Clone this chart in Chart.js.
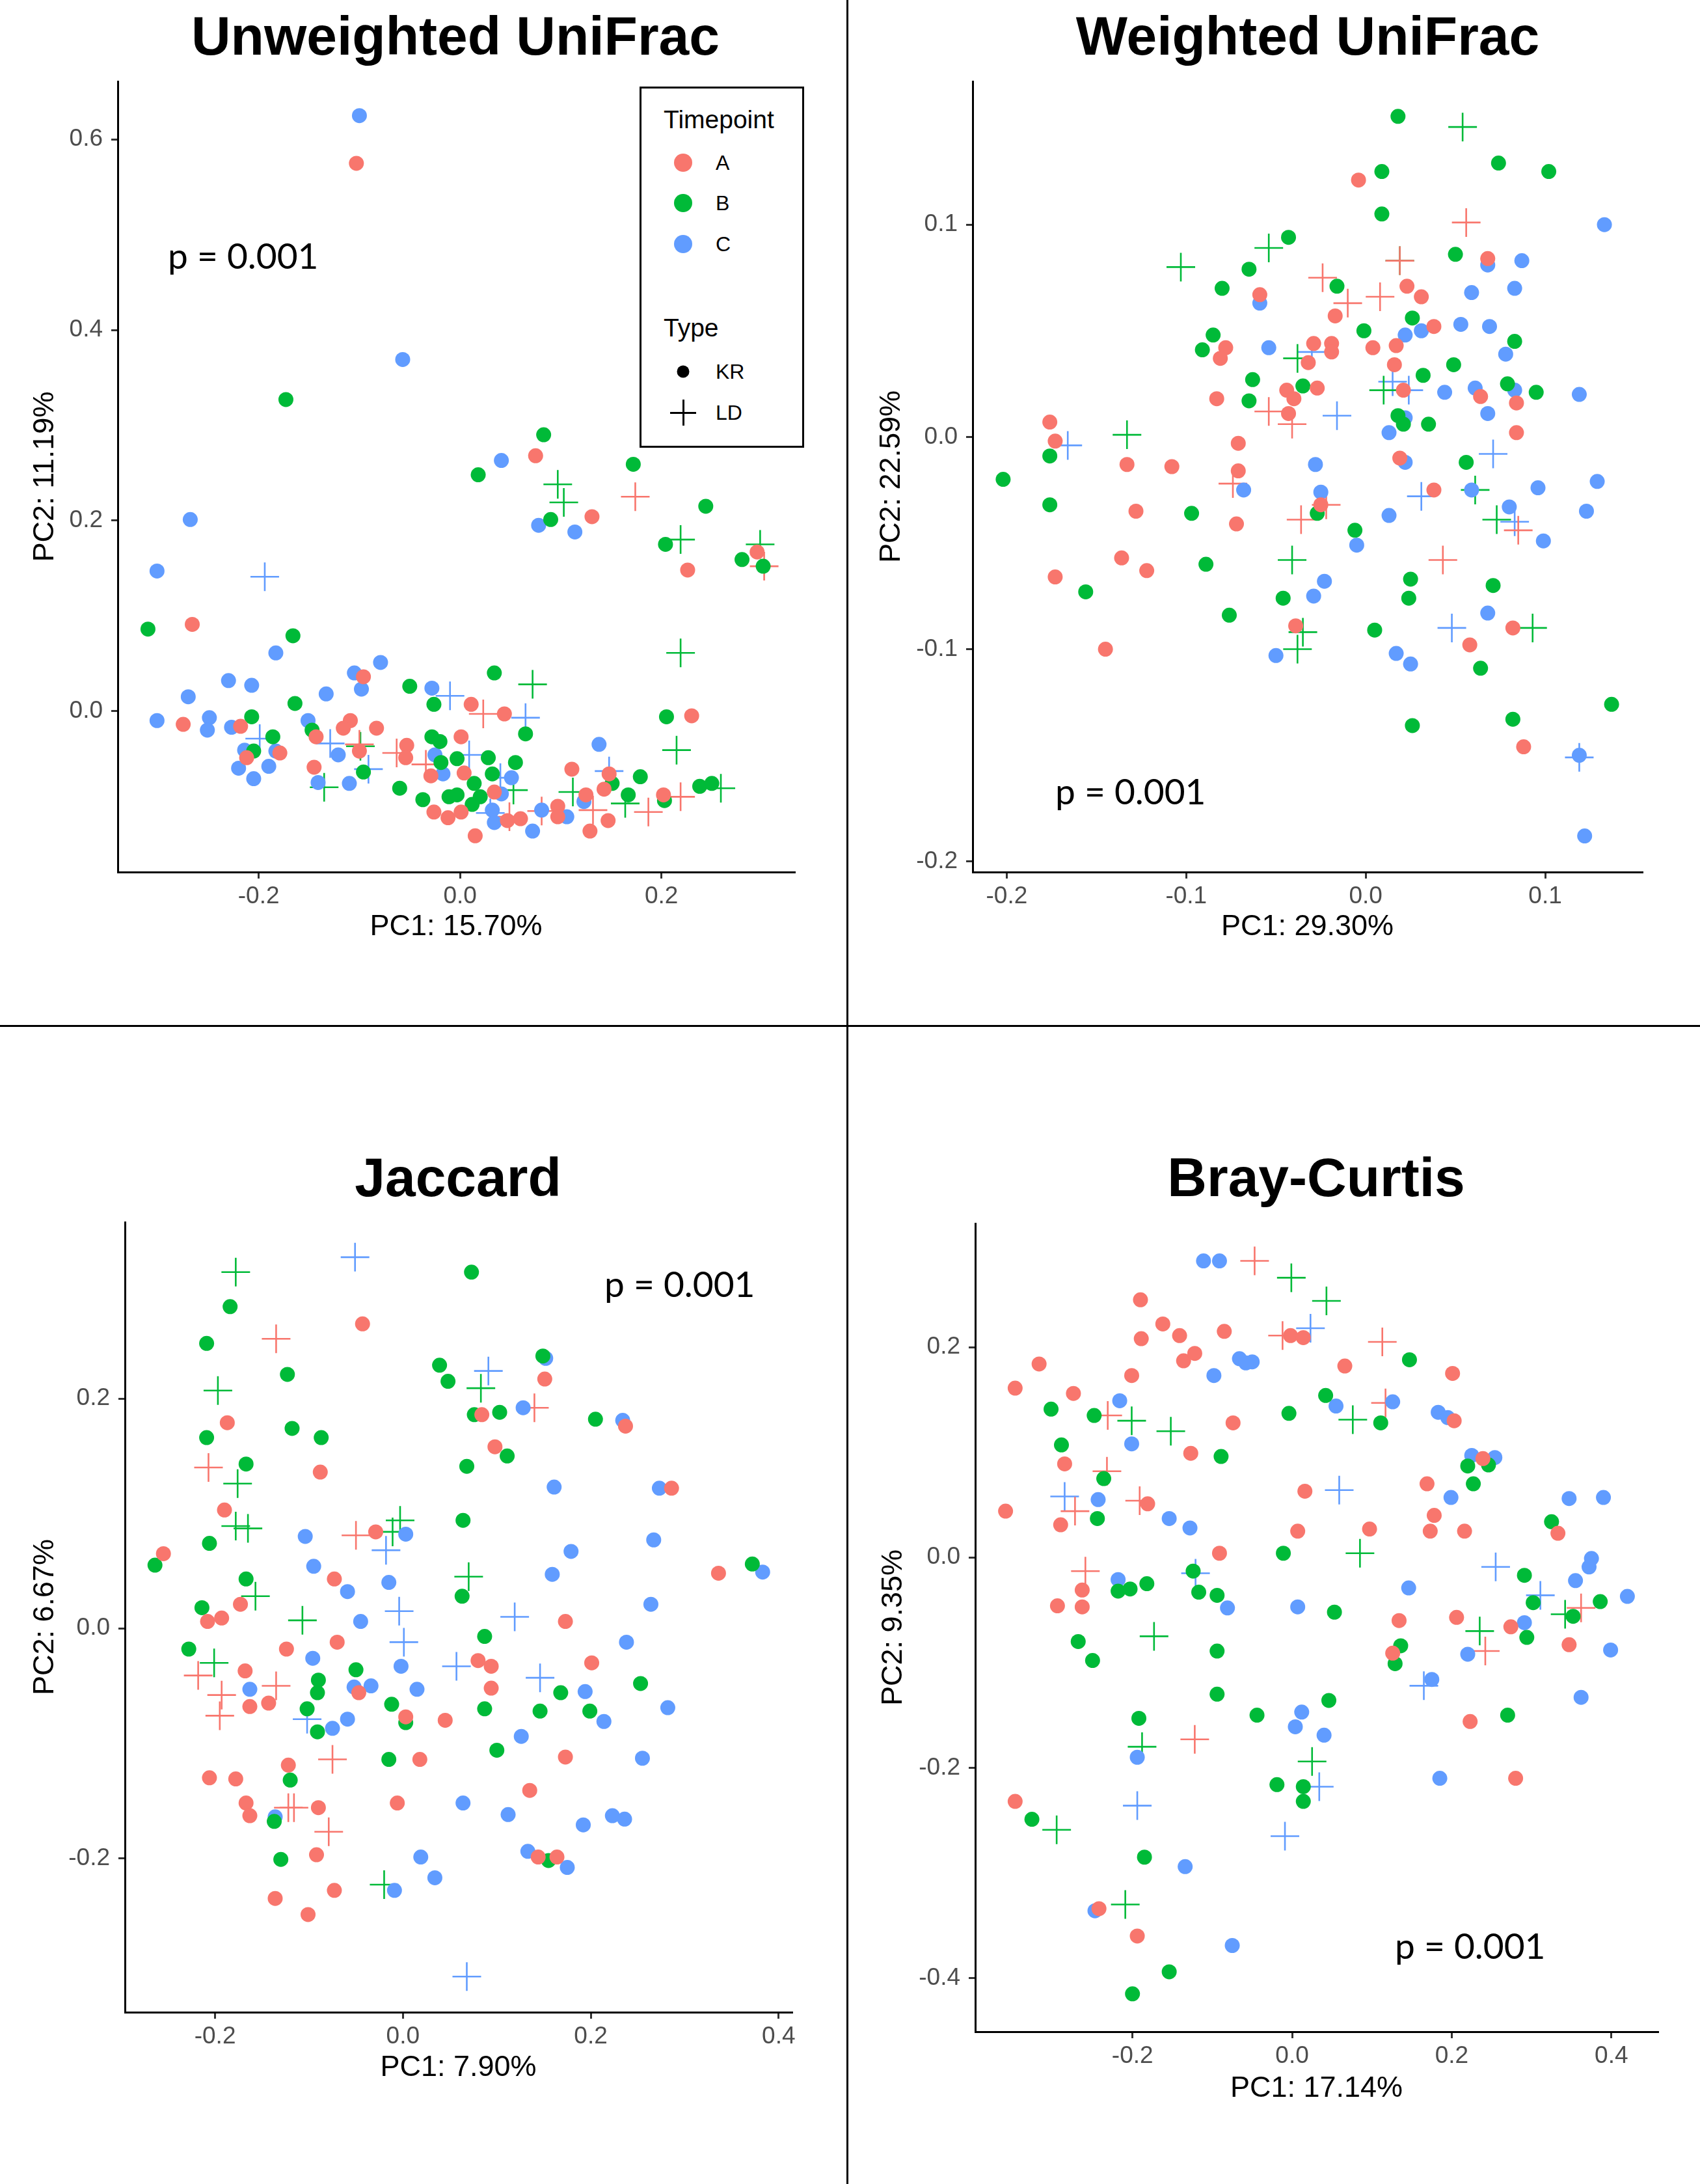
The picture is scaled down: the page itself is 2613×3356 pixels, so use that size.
<!DOCTYPE html>
<html>
<head>
<meta charset="utf-8">
<title>PCoA ordinations</title>
<script src="https://cdn.jsdelivr.net/npm/chart.js@4.4.1/dist/chart.umd.min.js"></script>
<style>
  html, body { margin: 0; padding: 0; background: #fff; }
  body { position: relative; width: 2613px; height: 3356px; overflow: hidden;
         font-family: "Liberation Sans", Arial, sans-serif; }
  canvas { position: absolute; }
  .rule { position: absolute; background: #000; }
  .ptitle { position: absolute; font-weight: bold; font-size: 84px; line-height: 1;
            white-space: nowrap; transform: translate(-50%, -50%); color: #000; }
  .pval { position: absolute; font-family: Lato, "Noto Sans", sans-serif; font-size: 55px;
          line-height: 1; white-space: nowrap; transform: translateY(-50%); color: #000; }
  .legend { position: absolute; left: 983px; top: 133px; width: 253px; height: 555px;
            border: 3px solid #000; box-sizing: border-box; background: #fff; }
  .lg-txt { position: absolute; line-height: 1; white-space: nowrap; transform: translateY(-50%); color: #000; }
  .lg-head { font-size: 39px; }
  .lg-item { font-size: 32px; }
  .lg-dot { position: absolute; border-radius: 50%; transform: translate(-50%, -50%); }
  .lg-plus { position: absolute; width: 40px; height: 40px; transform: translate(-50%, -50%); }
  .lg-plus::before, .lg-plus::after { content: ""; position: absolute; background: #000; }
  .lg-plus::before { left: 0; top: 18.5px; width: 40px; height: 3px; }
  .lg-plus::after { left: 18.5px; top: 0; width: 3px; height: 40px; }
</style>
</head>
<body>

<!-- panel dividers -->
<div class="rule" style="left:1301px;top:0;width:3px;height:3356px"></div>
<div class="rule" style="left:0;top:1575px;width:2613px;height:3px"></div>

<!-- panel titles and p values -->
<div class="ptitle" style="left:700px;top:55px">Unweighted UniFrac</div>
<div class="ptitle" style="left:2010px;top:55px">Weighted UniFrac</div>
<div class="ptitle" style="left:704px;top:1809px">Jaccard</div>
<div class="ptitle" style="left:2023px;top:1809px">Bray-Curtis</div>

<div class="pval" style="left:258px;top:392px">p = 0.001</div>
<div class="pval" style="left:1622px;top:1215px">p = 0.001</div>
<div class="pval" style="left:929px;top:1972px">p = 0.001</div>
<div class="pval" style="left:2144px;top:2989px">p = 0.001</div>

<script>
/* ---------- DATA : PC1 / PC2 coordinates ---------- */
const timepoints = ["A", "B", "C"];
const types      = ["KR", "LD"];

// Unweighted UniFrac
const uwXTicks = [-0.2, 0.0, 0.2];
const uwYTicks = [0.0, 0.2, 0.4, 0.6];
const uwA_KR = [[-0.103,0.575],[0.075,0.268],[0.131,0.204],[0.226,0.148],[0.295,0.167],[-0.266,0.091],[-0.096,0.036],[0.011,0.007],[0.044,-0.003],[0.230,-0.005],[-0.275,-0.014],[-0.218,-0.016],[-0.109,-0.010],[-0.083,-0.018],[-0.212,-0.049],[-0.179,-0.044],[-0.143,-0.027],[-0.116,-0.018],[-0.100,-0.042],[-0.053,-0.036],[-0.054,-0.049],[-0.145,-0.059],[-0.029,-0.068],[0.001,-0.027],[0.004,-0.065],[0.034,-0.085],[-0.026,-0.106],[-0.012,-0.112],[0.001,-0.106],[0.015,-0.131],[0.047,-0.115],[0.060,-0.113],[0.097,-0.100],[0.097,-0.111],[0.111,-0.061],[0.125,-0.088],[0.129,-0.126],[0.143,-0.082],[0.147,-0.115],[0.148,-0.066],[0.202,-0.088]];
const uwA_LD = [[0.174,0.225],[0.023,-0.003],[-0.063,-0.044],[-0.034,-0.056],[0.049,-0.111],[0.081,-0.105],[0.132,-0.104],[0.187,-0.106],[0.219,-0.090],[0.302,0.152],[-0.100,-0.035]];
const uwB_KR = [[-0.173,0.327],[0.083,0.290],[0.018,0.248],[0.172,0.259],[0.090,0.201],[0.244,0.215],[0.204,0.175],[0.280,0.159],[0.301,0.152],[-0.310,0.086],[-0.166,0.079],[0.034,0.040],[-0.050,0.026],[-0.026,0.007],[-0.164,0.008],[-0.207,-0.006],[-0.186,-0.027],[-0.205,-0.042],[-0.147,-0.020],[-0.096,-0.064],[-0.060,-0.081],[-0.037,-0.093],[-0.028,-0.027],[-0.020,-0.032],[-0.019,-0.054],[-0.011,-0.090],[-0.003,-0.088],[-0.003,-0.050],[0.028,-0.049],[0.032,-0.066],[0.055,-0.054],[0.065,-0.024],[0.014,-0.076],[0.020,-0.090],[0.012,-0.098],[0.151,-0.076],[0.167,-0.088],[0.179,-0.069],[0.205,-0.006],[0.203,-0.094],[0.238,-0.079],[0.250,-0.076]];
const uwB_LD = [[0.097,0.238],[0.103,0.219],[0.219,0.180],[0.298,0.175],[0.219,0.061],[0.072,0.028],[0.215,-0.041],[0.112,-0.085],[0.164,-0.097],[0.259,-0.081],[-0.135,-0.080],[-0.099,-0.037],[0.053,-0.083]];
const uwC_KR = [[-0.100,0.625],[-0.057,0.369],[-0.268,0.201],[-0.301,0.147],[0.041,0.263],[0.078,0.195],[0.114,0.188],[-0.183,0.061],[-0.079,0.051],[-0.105,0.040],[-0.098,0.023],[-0.230,0.032],[-0.207,0.027],[-0.270,0.015],[-0.133,0.018],[-0.301,-0.010],[-0.249,-0.007],[-0.251,-0.020],[-0.227,-0.017],[-0.214,-0.041],[-0.220,-0.060],[-0.205,-0.071],[-0.190,-0.058],[-0.183,-0.042],[-0.151,-0.010],[-0.121,-0.046],[-0.141,-0.075],[-0.110,-0.076],[-0.028,0.024],[-0.025,-0.046],[-0.017,-0.066],[0.051,-0.070],[0.041,-0.087],[0.032,-0.104],[0.034,-0.117],[0.081,-0.104],[0.072,-0.126],[0.106,-0.111],[0.123,-0.095],[0.138,-0.035]];
const uwC_LD = [[-0.194,0.141],[-0.010,0.016],[0.065,-0.007],[-0.199,-0.029],[-0.129,-0.034],[-0.091,-0.061],[0.009,-0.046],[0.040,-0.070],[0.148,-0.063],[0.030,-0.107]];

// Weighted UniFrac
const wuXTicks = [-0.2, -0.1, 0.0, 0.1];
const wuYTicks = [-0.2, -0.1, 0.0, 0.1];
const wuA_KR = [[-0.004,0.121],[0.068,0.084],[-0.059,0.067],[0.023,0.071],[0.031,0.066],[-0.017,0.057],[0.038,0.052],[-0.078,0.042],[-0.081,0.037],[-0.029,0.044],[-0.019,0.044],[-0.019,0.040],[0.004,0.042],[0.017,0.043],[-0.032,0.035],[0.016,0.034],[-0.083,0.018],[-0.044,0.022],[-0.040,0.018],[-0.027,0.023],[0.021,0.022],[0.064,0.019],[0.084,0.016],[-0.043,0.011],[0.084,0.002],[-0.176,0.007],[-0.173,-0.002],[-0.071,-0.003],[-0.071,-0.016],[-0.133,-0.013],[-0.108,-0.014],[0.019,-0.010],[-0.128,-0.035],[-0.072,-0.041],[-0.025,-0.032],[0.038,-0.025],[-0.136,-0.057],[-0.122,-0.063],[-0.173,-0.066],[-0.145,-0.100],[-0.039,-0.089],[0.058,-0.098],[0.082,-0.090],[0.088,-0.146]];
const wuA_LD = [[0.056,0.101],[-0.024,0.075],[-0.010,0.063],[0.008,0.066],[-0.054,0.012],[-0.041,0.006],[-0.074,-0.022],[-0.022,-0.032],[-0.036,-0.039],[0.043,-0.058],[0.085,-0.044],[0.019,0.083]];
const wuB_KR = [[0.018,0.151],[0.074,0.129],[0.102,0.125],[0.009,0.125],[0.009,0.105],[-0.043,0.094],[0.050,0.086],[-0.065,0.079],[-0.080,0.070],[-0.016,0.071],[0.026,0.056],[-0.001,0.050],[-0.085,0.048],[-0.091,0.041],[0.083,0.045],[0.049,0.034],[-0.063,0.027],[0.032,0.029],[-0.035,0.024],[0.079,0.025],[0.095,0.021],[-0.065,0.017],[0.018,0.010],[0.021,0.006],[0.035,0.006],[-0.176,-0.009],[-0.202,-0.020],[0.056,-0.012],[-0.176,-0.032],[-0.097,-0.036],[-0.027,-0.036],[-0.006,-0.044],[-0.089,-0.060],[0.025,-0.067],[0.071,-0.070],[-0.156,-0.073],[-0.046,-0.076],[0.024,-0.076],[-0.076,-0.084],[0.005,-0.091],[0.064,-0.109],[0.137,-0.126],[0.082,-0.133],[0.026,-0.136]];
const wuB_LD = [[0.054,0.146],[-0.103,0.080],[-0.054,0.089],[0.019,0.083],[-0.038,0.037],[-0.133,0.001],[0.010,0.022],[0.061,-0.025],[0.073,-0.039],[-0.041,-0.058],[-0.035,-0.092],[-0.038,-0.100],[0.093,-0.090]];
const wuC_KR = [[0.133,0.100],[0.087,0.083],[0.068,0.081],[0.083,0.070],[0.059,0.068],[-0.059,0.063],[0.031,0.050],[0.022,0.048],[0.053,0.053],[0.069,0.052],[-0.054,0.042],[0.078,0.039],[0.044,0.021],[0.061,0.023],[0.083,0.022],[0.119,0.020],[0.068,0.011],[0.013,0.002],[0.022,0.009],[0.022,-0.012],[-0.028,-0.013],[-0.068,-0.025],[-0.025,-0.026],[0.059,-0.025],[0.096,-0.024],[0.129,-0.021],[0.123,-0.035],[0.080,-0.033],[0.013,-0.037],[-0.005,-0.051],[0.099,-0.049],[-0.023,-0.068],[-0.029,-0.075],[-0.050,-0.103],[0.017,-0.102],[0.025,-0.107],[0.068,-0.083],[0.122,-0.188],[0.119,-0.150]];
const wuC_LD = [[-0.166,-0.004],[-0.030,0.040],[-0.016,0.010],[0.015,0.026],[0.024,0.022],[0.071,-0.008],[0.031,-0.028],[0.048,-0.090],[0.083,-0.040],[0.119,-0.151]];

// Jaccard
const jacXTicks = [-0.2, 0.0, 0.2, 0.4];
const jacYTicks = [-0.2, 0.0, 0.2];
const jacA_KR = [[-0.043,0.265],[0.151,0.217],[-0.187,0.179],[0.084,0.186],[0.098,0.158],[-0.088,0.136],[0.237,0.176],[0.286,0.122],[-0.190,0.103],[-0.029,0.084],[-0.255,0.065],[0.336,0.048],[-0.073,0.043],[-0.173,0.021],[-0.208,0.006],[-0.193,0.009],[-0.070,-0.012],[-0.124,-0.018],[0.173,0.006],[-0.168,-0.037],[0.080,-0.028],[0.094,-0.033],[0.094,-0.052],[0.201,-0.030],[-0.143,-0.065],[-0.163,-0.068],[-0.047,-0.056],[0.003,-0.077],[0.045,-0.080],[-0.122,-0.119],[0.018,-0.114],[0.173,-0.112],[-0.206,-0.130],[-0.178,-0.131],[-0.167,-0.152],[-0.163,-0.163],[-0.090,-0.156],[-0.006,-0.152],[0.135,-0.141],[-0.092,-0.197],[0.144,-0.199],[0.164,-0.199],[-0.136,-0.235],[-0.101,-0.249],[-0.073,-0.228]];
const jacA_LD = [[-0.135,0.252],[-0.207,0.140],[-0.050,0.081],[0.140,0.192],[-0.218,-0.041],[-0.135,-0.050],[-0.193,-0.058],[-0.195,-0.076],[-0.075,-0.114],[-0.116,-0.156],[-0.122,-0.156],[-0.079,-0.177]];
const jacB_KR = [[0.073,0.310],[-0.184,0.280],[-0.209,0.248],[-0.123,0.221],[0.039,0.229],[0.048,0.215],[0.149,0.237],[0.076,0.186],[0.103,0.188],[-0.118,0.174],[-0.087,0.166],[-0.209,0.166],[-0.167,0.143],[0.068,0.141],[0.111,0.150],[0.205,0.182],[0.064,0.094],[-0.206,0.074],[-0.264,0.055],[-0.167,0.043],[0.063,0.028],[0.372,0.056],[-0.214,0.018],[-0.228,-0.018],[0.087,-0.007],[-0.050,-0.036],[-0.090,-0.045],[-0.091,-0.056],[-0.102,-0.070],[-0.012,-0.066],[0.087,-0.070],[0.003,-0.082],[-0.091,-0.090],[0.168,-0.056],[0.146,-0.072],[0.199,-0.072],[0.253,-0.048],[-0.015,-0.114],[0.100,-0.106],[-0.120,-0.132],[-0.137,-0.168],[-0.130,-0.201],[0.155,-0.202]];
const jacB_LD = [[-0.178,0.310],[-0.197,0.207],[-0.176,0.126],[-0.178,0.089],[-0.165,0.087],[-0.003,0.094],[-0.011,0.084],[0.070,0.045],[-0.157,0.028],[-0.107,0.007],[-0.201,-0.030],[0.083,0.209],[-0.020,-0.223]];
const jacC_KR = [[0.152,0.235],[0.128,0.192],[0.234,0.181],[0.161,0.123],[0.273,0.122],[-0.104,0.080],[0.003,0.082],[-0.095,0.054],[0.267,0.077],[0.179,0.067],[0.159,0.047],[-0.015,0.040],[-0.059,0.032],[-0.045,0.006],[0.264,0.021],[-0.096,-0.026],[-0.002,-0.033],[0.238,-0.012],[-0.163,-0.053],[-0.052,-0.051],[-0.034,-0.050],[0.015,-0.053],[0.194,-0.055],[0.282,-0.069],[0.214,-0.081],[-0.059,-0.079],[-0.075,-0.087],[0.126,-0.094],[0.255,-0.113],[-0.136,-0.164],[0.064,-0.152],[0.112,-0.162],[0.192,-0.171],[0.223,-0.163],[0.236,-0.166],[0.133,-0.194],[0.175,-0.208],[0.019,-0.199],[0.034,-0.217],[-0.009,-0.228],[0.383,0.049]];
const jacC_LD = [[-0.051,0.323],[0.091,0.224],[-0.018,0.068],[-0.004,0.015],[0.001,-0.012],[0.119,0.010],[0.057,-0.033],[0.146,-0.043],[-0.102,-0.079],[0.068,-0.303]];

// Bray-Curtis
const bcXTicks = [-0.2, 0.0, 0.2, 0.4];
const bcYTicks = [-0.4, -0.2, 0.0, 0.2];
const bcA_KR = [[-0.190,0.245],[-0.162,0.222],[-0.141,0.211],[-0.189,0.208],[-0.085,0.215],[-0.136,0.187],[-0.122,0.194],[-0.201,0.173],[-0.317,0.184],[-0.347,0.161],[-0.274,0.156],[-0.074,0.128],[-0.127,0.099],[0.066,0.182],[0.201,0.175],[0.203,0.130],[-0.002,0.211],[0.014,0.209],[-0.285,0.089],[0.239,0.094],[-0.359,0.044],[-0.290,0.031],[-0.181,0.051],[0.016,0.063],[0.169,0.070],[0.178,0.040],[0.173,0.025],[0.216,0.025],[0.333,0.023],[0.097,0.027],[0.007,0.025],[-0.091,0.004],[-0.263,-0.031],[-0.294,-0.046],[-0.263,-0.047],[0.134,-0.060],[0.206,-0.057],[0.274,-0.066],[0.347,-0.083],[0.126,-0.091],[0.223,-0.156],[0.280,-0.210],[-0.347,-0.232],[-0.242,-0.334],[-0.194,-0.360]];
const bcA_LD = [[-0.047,0.282],[-0.012,0.211],[0.113,0.205],[0.117,0.147],[-0.231,0.135],[-0.232,0.082],[-0.272,0.044],[-0.191,0.054],[-0.259,-0.013],[-0.122,-0.173],[0.242,-0.089],[0.362,-0.048]];
const bcB_KR = [[0.147,0.188],[0.042,0.154],[-0.004,0.137],[0.111,0.128],[-0.302,0.141],[-0.248,0.135],[-0.289,0.107],[-0.089,0.096],[-0.236,0.075],[-0.244,0.037],[0.220,0.087],[0.246,0.088],[0.227,0.070],[0.325,0.034],[-0.011,0.004],[-0.124,-0.013],[0.291,-0.017],[0.302,-0.043],[0.386,-0.042],[0.352,-0.056],[0.294,-0.076],[-0.218,-0.032],[-0.203,-0.030],[-0.182,-0.025],[-0.117,-0.033],[-0.094,-0.036],[0.053,-0.052],[-0.268,-0.080],[-0.250,-0.098],[0.136,-0.084],[0.129,-0.101],[-0.094,-0.089],[-0.094,-0.130],[0.046,-0.136],[-0.044,-0.150],[-0.192,-0.153],[0.270,-0.150],[-0.019,-0.216],[0.014,-0.218],[0.014,-0.232],[-0.326,-0.249],[-0.185,-0.285],[-0.154,-0.394],[-0.200,-0.415]];
const bcB_LD = [[-0.001,0.266],[0.043,0.244],[-0.201,0.130],[-0.152,0.120],[0.076,0.131],[0.085,0.004],[-0.173,-0.075],[0.235,-0.070],[0.342,-0.054],[-0.188,-0.180],[0.025,-0.194],[-0.295,-0.259],[-0.209,-0.330]];
const bcC_KR = [[-0.111,0.282],[-0.091,0.282],[-0.066,0.189],[-0.050,0.186],[-0.058,0.185],[-0.098,0.173],[-0.216,0.149],[-0.201,0.108],[0.055,0.144],[0.126,0.148],[0.183,0.138],[0.195,0.133],[0.225,0.097],[0.254,0.095],[0.199,0.057],[0.347,0.056],[0.390,0.057],[-0.243,0.055],[-0.154,0.037],[-0.128,0.028],[0.375,-0.001],[0.372,-0.009],[0.355,-0.022],[0.420,-0.037],[-0.218,-0.021],[-0.081,-0.048],[0.007,-0.047],[0.146,-0.029],[0.291,-0.062],[0.220,-0.092],[0.399,-0.088],[0.175,-0.116],[0.362,-0.133],[0.012,-0.147],[0.004,-0.161],[0.040,-0.169],[0.185,-0.210],[-0.194,-0.190],[-0.134,-0.294],[-0.075,-0.369],[-0.247,-0.336]];
const bcC_LD = [[-0.285,0.058],[0.023,0.218],[0.059,0.064],[-0.121,-0.015],[0.255,-0.009],[0.311,-0.036],[0.165,-0.122],[0.034,-0.218],[-0.194,-0.236],[-0.009,-0.265]];

/* ---------- STYLE ---------- */
const colors = { A: "#F8766D", B: "#00BA38", C: "#619CFF" };
const X_AXIS_H = 130;   // fixed height of every x scale box

Chart.defaults.font.family = '"Liberation Sans", Arial, sans-serif';

// canvas box = [left, top, width, height], area = [left, top, right, bottom] (page px)
const panels = [
  { box: [0, 0, 1300, 1500], area: [181, 125, 1221, 1340],
    xRange: [-0.340, 0.332], yRange: [-0.169, 0.661], xTicks: uwXTicks, yTicks: uwYTicks,
    xTitle: "PC1: 15.70%", yTitle: "PC2: 11.19%", yTitleX: 70, xTitleGap: 85,
    sets: { A: [uwA_KR, uwA_LD], B: [uwB_KR, uwB_LD], C: [uwC_KR, uwC_LD] } },
  { box: [1304, 0, 1309, 1500], area: [1495, 125, 2524, 1340],
    xRange: [-0.219, 0.154], yRange: [-0.205, 0.1675], xTicks: wuXTicks, yTicks: wuYTicks,
    xTitle: "PC1: 29.30%", yTitle: "PC2: 22.59%", yTitleX: 1371, xTitleGap: 85,
    sets: { A: [wuA_KR, wuA_LD], B: [wuB_KR, wuB_LD], C: [wuC_KR, wuC_LD] } },
  { box: [0, 1578, 1300, 1778], area: [192, 1878, 1217, 3092],
    xRange: [-0.296, 0.414], yRange: [-0.334, 0.3535], xTicks: jacXTicks, yTicks: jacYTicks,
    xTitle: "PC1: 7.90%", yTitle: "PC2: 6.67%", yTitleX: 70, xTitleGap: 86,
    sets: { A: [jacA_KR, jacA_LD], B: [jacB_KR, jacB_LD], C: [jacC_KR, jacC_LD] } },
  { box: [1304, 1578, 1309, 1778], area: [1499, 1880, 2548, 3122],
    xRange: [-0.397, 0.458], yRange: [-0.451, 0.3176], xTicks: bcXTicks, yTicks: bcYTicks,
    xTitle: "PC1: 17.14%", yTitle: "PC2: 9.35%", yTitleX: 1374, xTitleGap: 88,
    sets: { A: [bcA_KR, bcA_LD], B: [bcB_KR, bcB_LD], C: [bcC_KR, bcC_LD] } }
];

/* ---------- BUILD ---------- */
function buildDatasets(sets) {
  const out = [];
  // circles first (KR), crosses on top (LD)
  types.forEach((type, ti) => {
    timepoints.forEach(tp => {
      const col = colors[tp];
      const ds = {
        label: tp + " " + type,
        data: sets[tp][ti].map(p => ({ x: p[0], y: p[1] })),
        showLine: false,
        clip: false,
        backgroundColor: col,
        borderColor: col
      };
      if (type === "KR") {
        Object.assign(ds, { pointStyle: "circle", pointRadius: 11.5, pointBorderWidth: 0,
                            pointBackgroundColor: col });
      } else {
        Object.assign(ds, { pointStyle: "cross", pointRadius: 22, pointBorderWidth: 2.6,
                            pointBorderColor: col });
      }
      out.push(ds);
    });
  });
  return out;
}

function axis(range, ticks, title, isX, p) {
  const lineH = 45 * 1.2;
  return {
    type: "linear",
    position: isX ? "bottom" : "left",
    min: range[0],
    max: range[1],
    afterBuildTicks: s => { s.ticks = ticks.map(v => ({ value: v })); },
    afterFit: s => {
      if (isX) s.height = X_AXIS_H;
      else s.width = p.area[0] - p.box[0];
    },
    ticks: {
      autoSkip: false,
      maxRotation: 0,
      padding: isX ? 6 : 13,
      color: "#4D4D4D",
      font: { size: 37 },
      callback: v => v.toFixed(1)
    },
    grid: { drawOnChartArea: false, drawTicks: true, tickLength: 10, color: "#333", lineWidth: 3 },
    border: { display: true, color: "#000", width: 3 },
    title: {
      display: true,
      text: title,
      color: "#000",
      font: { size: 45 },
      padding: isX ? { top: 0, bottom: X_AXIS_H - p.xTitleGap - lineH / 2 }
                   : { top: p.yTitleX - p.box[0] - lineH / 2, bottom: 0 }
    }
  };
}

function makeChart(p) {
  const cv = document.createElement("canvas");
  cv.width = p.box[2];
  cv.height = p.box[3];
  cv.style.left = p.box[0] + "px";
  cv.style.top = p.box[1] + "px";
  cv.style.width = p.box[2] + "px";
  cv.style.height = p.box[3] + "px";
  document.body.insertBefore(cv, document.body.firstChild);

  return new Chart(cv.getContext("2d"), {
    type: "scatter",
    data: { datasets: buildDatasets(p.sets) },
    options: {
      responsive: false,
      animation: false,
      devicePixelRatio: 1,
      events: [],
      layout: {
        padding: {
          left: 0,
          top: p.area[1] - p.box[1],
          right: p.box[0] + p.box[2] - p.area[2],
          bottom: p.box[1] + p.box[3] - p.area[3] - X_AXIS_H
        }
      },
      plugins: { legend: { display: false }, tooltip: { enabled: false } },
      scales: {
        x: axis(p.xRange, p.xTicks, p.xTitle, true, p),
        y: axis(p.yRange, p.yTicks, p.yTitle, false, p)
      }
    }
  });
}

panels.forEach(makeChart);
</script>

<!-- legend of the first panel -->
<div class="legend"></div>
<div class="lg-txt lg-head" style="left:1020px;top:183px">Timepoint</div>
<div class="lg-dot" style="left:1050px;top:250px;width:28px;height:28px;background:#F8766D"></div>
<div class="lg-txt lg-item" style="left:1100px;top:250px">A</div>
<div class="lg-dot" style="left:1050px;top:312px;width:28px;height:28px;background:#00BA38"></div>
<div class="lg-txt lg-item" style="left:1100px;top:312px">B</div>
<div class="lg-dot" style="left:1050px;top:375px;width:28px;height:28px;background:#619CFF"></div>
<div class="lg-txt lg-item" style="left:1100px;top:375px">C</div>
<div class="lg-txt lg-head" style="left:1020px;top:503px">Type</div>
<div class="lg-dot" style="left:1050px;top:571px;width:19px;height:19px;background:#000"></div>
<div class="lg-txt lg-item" style="left:1100px;top:571px">KR</div>
<div class="lg-plus" style="left:1050px;top:634px"></div>
<div class="lg-txt lg-item" style="left:1100px;top:634px">LD</div>

</body>
</html>
